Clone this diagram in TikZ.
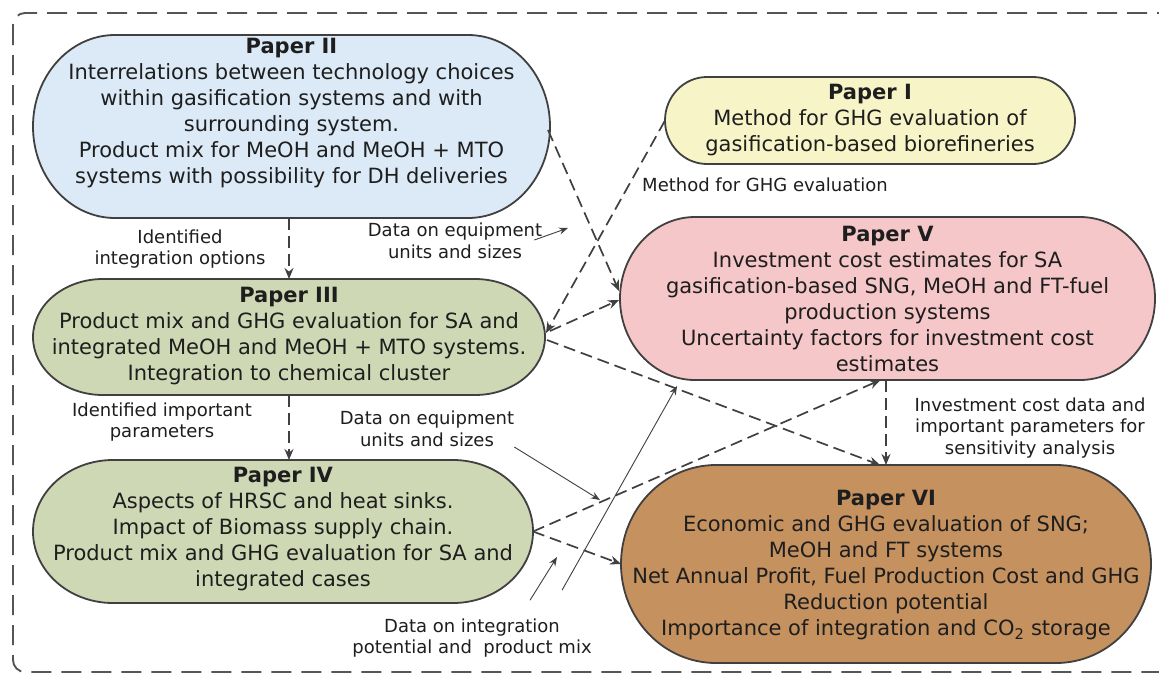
\documentclass[tikz,border=0pt]{standalone}
\usepackage{fontspec}
\setmainfont{DejaVu Sans}
\usetikzlibrary{arrows.meta,calc}

\definecolor{inkgray}{HTML}{404040}
\definecolor{framegray}{HTML}{555555}
\definecolor{textdark}{HTML}{1E1E1E}
\definecolor{fillblue}{HTML}{DBEAF6}
\definecolor{fillyellow}{HTML}{F7F5C8}
\definecolor{fillpink}{HTML}{F5C7C9}
\definecolor{fillsage}{HTML}{CFD8B4}
\definecolor{filltan}{HTML}{C4915F}

\tikzset{
  shapebox/.style={draw=none, inner sep=0pt, outer sep=0pt},
  boxline/.style={draw=inkgray, line width=1.8pt},
  papertext/.style={align=center, inner sep=0pt, text=textdark,
    font=\fontsize{21}{26}\selectfont},
  labeltext/.style={align=center, inner sep=0pt, text=textdark,
    font=\fontsize{18}{21.7}\selectfont},
  dep/.style={draw=inkgray, line width=1.7pt, dash pattern=on 12pt off 6pt,
    -{Stealth[length=11pt,width=9pt]}},
  pointer/.style={draw=inkgray, line width=0.9pt,
    -{Stealth[length=9pt,width=7pt]}},
  framedash/.style={draw=framegray, line width=1.9pt,
    dash pattern=on 20pt off 10pt, rounded corners=12pt}
}

% stadium outline around a named node: node name, end radius (pt), fill
\newcommand\stadium[3]{%
  \path[boxline, fill=#3] let \p1=(#1.south west), \p2=(#1.north east),
    \n1={(\y2-\y1)/2} in
    (\x1+#2pt,\y1) -- (\x2-#2pt,\y1)
    arc[start angle=-90, end angle=90, x radius=#2pt, y radius=\n1]
    -- (\x1+#2pt,\y2)
    arc[start angle=90, end angle=270, x radius=#2pt, y radius=\n1] -- cycle;}

\begin{document}
\begin{tikzpicture}[x=1pt, y=1pt]
\clip (0,0) rectangle (1159,-678);
\fill[white] (0,0) rectangle (1159,-678);

% outer dashed frame
\draw[framedash] (13,-13) rectangle (1195,-672);

% box outlines
\node[shapebox, minimum width=517pt, minimum height=183pt] (p2) at (291.5,-126.5) {};
\node[shapebox, minimum width=410pt, minimum height=87pt]  (p1) at (870,-120.5) {};
\node[shapebox, minimum width=535pt, minimum height=163pt] (p5) at (887.5,-298.5) {};
\node[shapebox, minimum width=512pt, minimum height=116pt] (p3) at (289,-337) {};
\node[shapebox, minimum width=500pt, minimum height=143pt] (p4) at (283,-531.5) {};
\node[shapebox, minimum width=530pt, minimum height=198pt] (p6) at (886,-564) {};

\stadium{p2}{82}{fillblue}
\stadium{p1}{42}{fillyellow}
\stadium{p5}{75}{fillpink}
\stadium{p3}{70}{fillsage}
\stadium{p4}{80}{fillsage}
\stadium{p6}{95}{filltan}

% box texts
\node[papertext] (p2t) at (291.5,-113) {\textbf{Paper II}\\
  Interrelations between technology choices\\
  within gasification systems and with\\
  surrounding system.\\
  Product mix for MeOH and MeOH + MTO\\
  systems with possibility for DH deliveries};
\node[papertext] (p1t) at (870,-120.5) {\textbf{Paper I}\\
  Method for GHG evaluation of\\
  gasification-based biorefineries};
\node[papertext] (p5t) at (887.5,-298.5) {\textbf{Paper V}\\
  Investment cost estimates for SA\\
  gasification-based SNG, MeOH and FT-fuel\\
  production systems\\
  Uncertainty factors for investment cost\\
  estimates};
\node[papertext] (p3t) at (289,-336.5) {\textbf{Paper III}\\
  Product mix and GHG evaluation for SA and\\
  integrated MeOH and MeOH + MTO systems.\\
  Integration to chemical cluster};
\node[papertext] (p4t) at (283,-529) {\textbf{Paper IV}\\
  Aspects of HRSC and heat sinks.\\
  Impact of Biomass supply chain.\\
  Product mix and GHG evaluation for SA and\\
  integrated cases};
\node[papertext] (p6t) at (886,-565) {\textbf{Paper VI}\\
  Economic and GHG evaluation of SNG;\\
  MeOH and FT systems\\
  Net Annual Profit, Fuel Production Cost and GHG\\
  Reduction potential\\
  Importance of integration and CO\textsubscript{2} storage};

% connector labels
\node[labeltext] (lab1) at (180,-249) {Identified\\integration options};
\node[labeltext] (lab2) at (455,-241) {Data on equipment\\units and sizes};
\node[labeltext] (lab3) at (765,-185) {Method for GHG evaluation};
\node[labeltext] (lab4) at (162,-422) {Identified important\\parameters};
\node[labeltext] (lab5) at (427,-429) {Data on equipment\\units and sizes};
\node[labeltext] (lab6) at (1030,-428) {Investment cost data and\\important parameters for\\sensitivity analysis};
\node[labeltext] (lab7) at (472,-638) {Data on integration\\potential and\ \ product mix};

% dependencies between papers
\draw[dep] (p3.north |- p2.south) -- (p3.north);
\draw[dep] (p3.south) -- (p3.south |- p4.north);
\draw[dep] ($(p2.east)+(-2,-3.5)$) -- ($(p5.west)+(-1,7.5)$);
\draw[dep] (p1.west) -- ($(p3.east)+(1,4)$);
\draw[dep] ($(p3.east)+(5,6)$) -- ($(p5.west)+(-1,-1.5)$);
\draw[dep] ($(p3.east)+(2,-3)$) -- ($(p6.north)+(-6,0)$);
\draw[dep] (p6.north |- p5.south) -- (p6.north);
\draw[dep] (p4.east) -- ($(p5.south)+(-7,0)$);
\draw[dep] (p4.east) -- (p6.west);

% pointers from the labels
\coordinate (a1) at (568,-228);
\coordinate (b1) at (600,-500);
\coordinate (c1) at (557,-557);
\coordinate (c2) at (677,-386);
\draw[pointer] ($(lab2.east)+(-8,1)$) -- (a1);
\draw[pointer] (lab5.south east) -- (b1);
\draw[pointer] ($(lab7.north)+(58,18)$) -- (c1);
\draw[pointer] ($(lab7.north)+(90,28)$) -- (c2);
\end{tikzpicture}
\end{document}
